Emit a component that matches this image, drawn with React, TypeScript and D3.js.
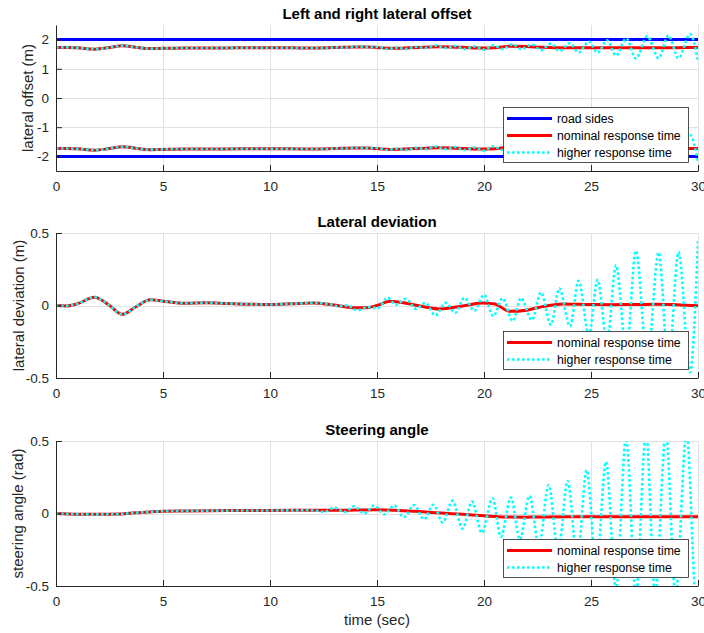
import * as d3 from 'd3';
import React, { useRef, useEffect } from 'react';

const width = 704;
const height = 633;
const font = '"Liberation Sans", Arial, Helvetica, sans-serif';

// time axis (sec)
const timeTicks = [0, 5, 10, 15, 20, 25, 30];

// lateral deviation (m), nominal response time
const devNominalTime = [0, 0.5, 1, 1.8, 2.5, 3.1, 3.7, 4.4, 5, 6, 7, 8, 9, 10, 11, 12, 13, 14, 14.5, 15, 15.6, 16.5, 17.3, 17.9, 19, 19.9, 20.5, 21.2, 22, 22.6, 23.7, 25, 26, 27, 28, 29, 30];
const devNominal = [0, -0.003, 0.012, 0.057, 0.0, -0.061, -0.012, 0.039, 0.03, 0.016, 0.019, 0.014, 0.009, 0.007, 0.012, 0.018, 0.003, -0.016, -0.016, 0.0, 0.03, 0.012, -0.012, -0.024, -0.004, 0.017, 0.01, -0.04, -0.032, -0.012, 0.011, 0.007, 0.006, 0.007, 0.008, 0.005, -0.002];

// lateral deviation (m), higher response time
const devHigherTime = [0, 0.5, 1, 1.8, 2.5, 3.1, 3.7, 4.4, 5, 6, 7, 8, 9, 10, 11, 12, 12.7, 13.15, 13.6, 14.09, 14.56, 15.03, 15.5, 15.89, 16.35, 16.82, 17.26, 17.72, 18.22, 18.66, 19.08, 19.55, 20.0, 20.43, 20.87, 21.34, 21.73, 22.24, 22.66, 23.13, 23.52, 24.02, 24.42, 24.9, 25.31, 25.75, 26.17, 26.65, 27.1, 27.63, 28.16, 28.62, 29.09, 29.63, 30];
const devHigher = [0, -0.003, 0.012, 0.057, 0.0, -0.061, -0.012, 0.039, 0.03, 0.016, 0.019, 0.014, 0.009, 0.007, 0.012, 0.018, 0.012, -0.004, 0.0, -0.034, -0.011, -0.018, 0.053, 0.005, 0.046, -0.023, 0.018, -0.068, 0.018, -0.05, 0.053, -0.036, 0.074, -0.073, 0.05, -0.107, 0.052, -0.1, 0.09, -0.133, 0.118, -0.143, 0.17, -0.2, 0.177, -0.25, 0.277, -0.31, 0.377, -0.38, 0.365, -0.41, 0.368, -0.46, 0.45];

// steering angle (rad), nominal response time
const steerNominalTime = [0, 1, 2, 3, 3.7, 4.5, 5, 6, 8, 10, 12, 13, 14, 15, 16, 17, 18, 19, 20, 21, 22, 24, 26, 28, 30];
const steerNominal = [0, -0.005, -0.006, -0.003, 0.005, 0.012, 0.016, 0.018, 0.02, 0.021, 0.022, 0.022, 0.024, 0.026, 0.021, 0.013, 0.003, -0.006, -0.016, -0.024, -0.025, -0.023, -0.023, -0.023, -0.023];

// steering angle (rad), higher response time
const steerHigherTime = [0, 1, 2, 3, 3.7, 4.5, 5, 6, 8, 10, 12, 12.55, 13.0, 13.47, 13.94, 14.4, 14.87, 15.34, 15.8, 16.25, 16.74, 17.2, 17.64, 18.07, 18.53, 19.0, 19.44, 19.9, 20.4, 20.79, 21.26, 21.68, 22.12, 22.57, 23.02, 23.47, 23.91, 24.36, 24.8, 25.25, 25.7, 26.17, 26.64, 27.1, 27.57, 28.0, 28.5, 28.95, 29.47, 29.9, 30];
const steerHigher = [0, -0.005, -0.006, -0.003, 0.005, 0.012, 0.016, 0.018, 0.02, 0.021, 0.022, 0.012, 0.04, 0.01, 0.05, 0.0, 0.055, -0.005, 0.055, -0.025, 0.058, -0.04, 0.06, -0.062, 0.087, -0.105, 0.083, -0.133, 0.105, -0.16, 0.11, -0.18, 0.121, -0.22, 0.197, -0.26, 0.224, -0.31, 0.299, -0.38, 0.356, -0.52, 0.52, -0.56, 0.56, -0.56, 0.56, -0.56, 0.56, -0.56, -0.54];

// road sides and car edge offset (m)
const roadSides = [2, -2];
const carEdgeOffset = 1.73;

const offsetTicks = [-2, -1, 0, 1, 2];
const devTicks = [-0.5, 0, 0.5];
const steerTicks = [-0.5, 0, 0.5];

const BLUE = '#0000ff';
const RED = '#ff0000';
const CYAN = '#00ffff';

function App() {
    const ref = useRef(null);

    useEffect(() => {
        draw();
    }, []);

    const draw = () => {
        const svg = d3.select(ref.current);
        svg.selectAll('*').remove();

        svg.append('rect').attr('width', width).attr('height', height).attr('fill', 'white');

        const x = d3.scaleLinear().domain([0, 30]).range([56, 698]);

        const pts = (ts, vs, f = (v) => v) => ts.map((t, i) => [t, f(vs[i])]);

        const nominal = { label: 'nominal response time', color: RED, width: 3, dash: null };
        const higher = { label: 'higher response time', color: CYAN, width: 2.6, dash: '2.6 2.4' };
        const road = { label: 'road sides', color: BLUE, width: 3, dash: null };

        const panels = [
            {
                top: 25, bottom: 171, domain: [-2.5, 2.5], ticks: offsetTicks,
                title: 'Left and right lateral offset', ylabel: 'lateral offset (m)', ylabelX: 33,
                legend: [road, nominal, higher],
                series: [
                    { ...road, points: [[0, roadSides[0]], [30, roadSides[0]]] },
                    { ...road, points: [[0, roadSides[1]], [30, roadSides[1]]] },
                    { ...nominal, points: pts(devNominalTime, devNominal, (v) => carEdgeOffset - v) },
                    { ...nominal, points: pts(devNominalTime, devNominal, (v) => -carEdgeOffset - v) },
                    { ...higher, points: pts(devHigherTime, devHigher, (v) => carEdgeOffset - v) },
                    { ...higher, points: pts(devHigherTime, devHigher, (v) => -carEdgeOffset - v) },
                ],
            },
            {
                top: 233, bottom: 378, domain: [-0.5, 0.5], ticks: devTicks,
                title: 'Lateral deviation', ylabel: 'lateral deviation (m)', ylabelX: 23.5,
                legend: [nominal, higher],
                series: [
                    { ...nominal, points: pts(devNominalTime, devNominal) },
                    { ...higher, points: pts(devHigherTime, devHigher) },
                ],
            },
            {
                top: 441, bottom: 586, domain: [-0.5, 0.5], ticks: steerTicks,
                title: 'Steering angle', ylabel: 'steering angle (rad)', ylabelX: 23,
                legend: [nominal, higher],
                xlabel: 'time (sec)',
                series: [
                    { ...nominal, points: pts(steerNominalTime, steerNominal) },
                    { ...higher, points: pts(steerHigherTime, steerHigher) },
                ],
            },
        ];

        panels.forEach((p, pi) => {
            const y = d3.scaleLinear().domain(p.domain).range([p.bottom, p.top]);
            const g = svg.append('g');

            // grid
            g.append('g').selectAll('line').data(timeTicks).enter().append('line')
                .attr('x1', (d) => x(d) + 0.5).attr('x2', (d) => x(d) + 0.5)
                .attr('y1', p.top).attr('y2', p.bottom)
                .attr('stroke', '#e2e2e2').attr('shape-rendering', 'crispEdges');
            g.append('g').selectAll('line').data(p.ticks).enter().append('line')
                .attr('x1', x(0)).attr('x2', x(30))
                .attr('y1', (d) => y(d) + 0.5).attr('y2', (d) => y(d) + 0.5)
                .attr('stroke', '#e2e2e2').attr('shape-rendering', 'crispEdges');

            // data lines
            const clipId = 'clip' + pi;
            svg.append('clipPath').attr('id', clipId).append('rect')
                .attr('x', x(0)).attr('y', p.top)
                .attr('width', x(30) - x(0)).attr('height', p.bottom - p.top + 1);

            const line = d3.line().x((d) => x(d[0])).y((d) => y(d[1])).curve(d3.curveMonotoneX);
            const lines = g.append('g').attr('clip-path', `url(#${clipId})`);
            p.series.forEach((s) => {
                lines.append('path').datum(s.points)
                    .attr('d', line)
                    .attr('fill', 'none')
                    .attr('stroke', s.color)
                    .attr('stroke-width', s.width)
                    .attr('stroke-dasharray', s.dash);
            });

            // axes
            const xAxis = d3.axisBottom(x).tickValues(timeTicks).tickSizeInner(-6).tickSizeOuter(0)
                .tickPadding(10).tickFormat((d) => String(d));
            const xg = g.append('g').attr('transform', `translate(0,${p.bottom})`).call(xAxis);
            const yAxis = d3.axisLeft(y).tickValues(p.ticks).tickSizeInner(-6).tickSizeOuter(0)
                .tickPadding(7).tickFormat((d) => String(d));
            const yg = g.append('g').attr('transform', `translate(${x(0)},0)`).call(yAxis);
            [xg, yg].forEach((a) => {
                a.select('.domain').attr('stroke', '#262626');
                a.selectAll('.tick line').attr('stroke', '#262626');
                a.selectAll('.tick text').attr('fill', '#262626')
                    .style('font-family', font).style('font-size', '13.5px');
            });

            // title
            svg.append('text')
                .attr('x', (x(0) + x(30)) / 2).attr('y', p.top - 6.5)
                .attr('text-anchor', 'middle')
                .style('font-family', font).style('font-size', '15px').style('font-weight', 'bold')
                .attr('fill', '#000')
                .text(p.title);

            // y label
            svg.append('text')
                .attr('transform', `translate(${p.ylabelX},${(p.top + p.bottom) / 2}) rotate(-90)`)
                .attr('text-anchor', 'middle')
                .style('font-family', font).style('font-size', '15px')
                .attr('fill', '#262626')
                .text(p.ylabel);

            if (p.xlabel) {
                svg.append('text')
                    .attr('x', (x(0) + x(30)) / 2).attr('y', 625)
                    .attr('text-anchor', 'middle')
                    .style('font-family', font).style('font-size', '15px')
                    .attr('fill', '#262626')
                    .text(p.xlabel);
            }

            // legend, bottom right of the axes
            const n = p.legend.length;
            const boxH = 17 * n + 4;
            const boxX = 503;
            const boxY = p.bottom - 9 - boxH;
            const lg = svg.append('g');
            lg.append('rect')
                .attr('x', boxX + 0.5).attr('y', boxY + 0.5)
                .attr('width', 185).attr('height', boxH)
                .attr('fill', 'white').attr('stroke', '#262626').attr('stroke-width', 0.8);
            p.legend.forEach((item, i) => {
                const ly = boxY + 11.5 + i * 17;
                lg.append('line')
                    .attr('x1', boxX + 4).attr('x2', boxX + 49)
                    .attr('y1', ly).attr('y2', ly)
                    .attr('stroke', item.color).attr('stroke-width', item.width)
                    .attr('stroke-dasharray', item.dash);
                lg.append('text')
                    .attr('x', boxX + 54).attr('y', ly + 4.3)
                    .style('font-family', font).style('font-size', '12.3px')
                    .attr('fill', '#000')
                    .text(item.label);
            });
        });
    };

    return (
        <svg ref={ref} width={width} height={height}
            style={{ position: 'absolute', left: 0, top: 0, display: 'block' }}>
        </svg>
    );
}

export default App;
